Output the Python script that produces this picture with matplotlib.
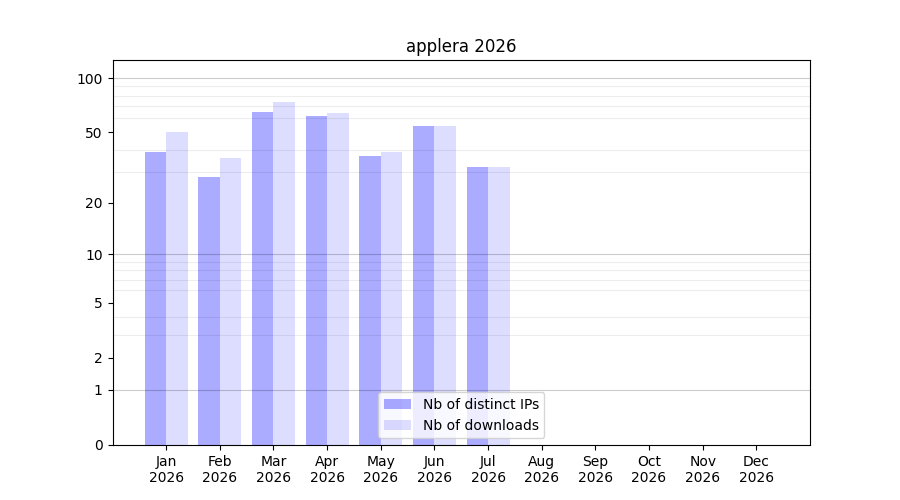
import numpy as np
import matplotlib.pyplot as plt

months = ['Jan', 'Feb', 'Mar', 'Apr', 'May', 'Jun', 'Jul', 'Aug', 'Sep', 'Oct', 'Nov', 'Dec']
year = 2026
distinct_ips = [39, 28, 65, 62, 37, 54, 32]
downloads = [50, 36, 74, 64, 39, 54, 32]
yticks = [0, 1, 2, 5, 10, 20, 50, 100]


def forward(y):
    return np.log10(1 + np.clip(y, 0, None))


def inverse(y):
    return 10 ** y - 1


fig, ax = plt.subplots(figsize=(9, 5), dpi=100)
x = np.arange(len(distinct_ips))
width = 0.4

ax.bar(x - width / 2, distinct_ips, width, color='blue', alpha=0.33, label='Nb of distinct IPs')
ax.bar(x + width / 2, downloads, width, color='blue', alpha=0.135, label='Nb of downloads')

ax.set_yscale('function', functions=(forward, inverse))
ax.set_ylim(0, 1.7 * max(downloads))
ax.set_yticks(yticks)
ax.set_yticklabels([str(t) for t in yticks])
minor = [m * d for d in (1, 10) for m in range(2, 10)]
ax.set_yticks(minor, minor=True)
ax.tick_params(axis='y', which='minor', length=0)
ax.grid(axis='y', which='minor', color='black', alpha=0.07, linewidth=0.8)
for d in (1, 10, 100):
    ax.axhline(d, color='black', alpha=0.2, linewidth=0.8)
ax.set_axisbelow(False)

ax.set_xticks(np.arange(len(months)))
ax.set_xticklabels([f'{m}\n{year}' for m in months])
ax.set_xlim(-1, len(months))

ax.set_title(f'applera {year}')
ax.legend(loc='lower center')

plt.savefig('out.png')
